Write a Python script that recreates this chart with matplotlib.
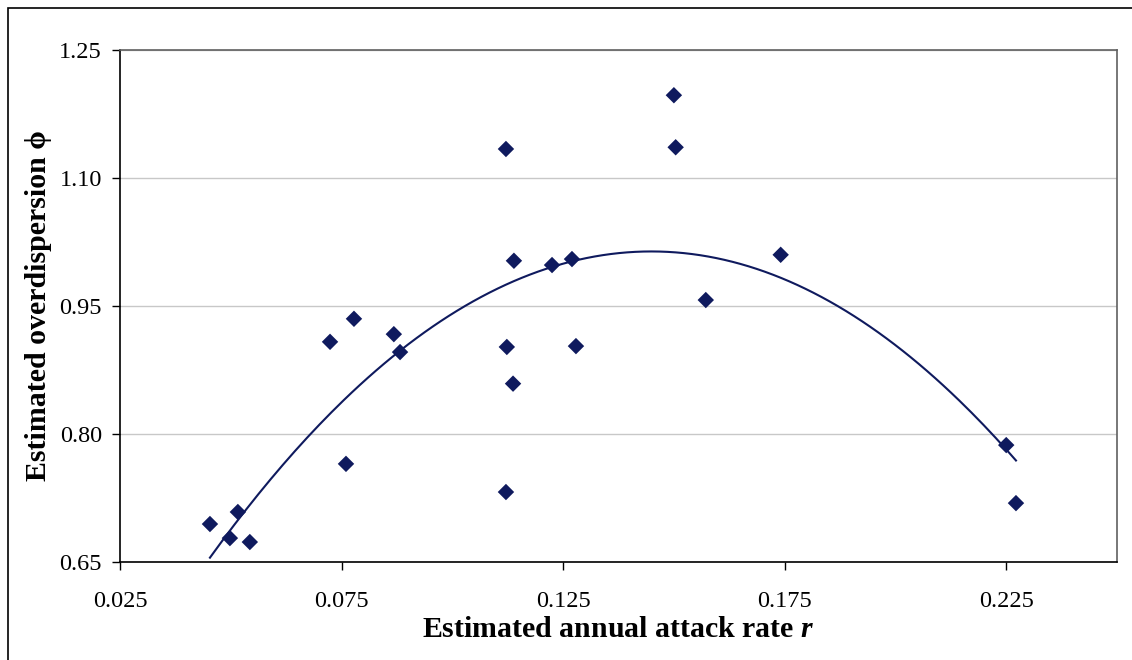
import numpy as np
import matplotlib
matplotlib.use("Agg")
import matplotlib.pyplot as plt
from matplotlib.patches import Rectangle

# attack rate r and overdispersion phi
attack_rate = [0.0453, 0.0498, 0.0516, 0.0543, 0.0724, 0.0760, 0.0778, 0.0868,
               0.0882, 0.1121, 0.1123, 0.1121, 0.1139, 0.1137, 0.1225, 0.1270,
               0.1279, 0.1500, 0.1504, 0.1572, 0.1741, 0.2250, 0.2272]
overdispersion = [0.6945, 0.678, 0.7086, 0.6734, 0.908, 0.765, 0.935, 0.917,
                  0.896, 1.134, 0.902, 0.732, 1.003, 0.859, 0.998, 1.005,
                  0.903, 1.197, 1.136, 0.957, 1.010, 0.787, 0.719]
x_ticks = [0.025, 0.075, 0.125, 0.175, 0.225]
y_ticks = [0.65, 0.80, 0.95, 1.10, 1.25]

navy = "#0f1a5e"
serif = ["Liberation Serif", "DejaVu Serif"]
plt.rcParams["font.family"] = serif
plt.rcParams["mathtext.fontset"] = "custom"
plt.rcParams["mathtext.it"] = "Liberation Serif:italic:bold"
plt.rcParams["mathtext.rm"] = "Liberation Serif:bold"

fig = plt.figure(figsize=(11.32, 6.6), dpi=100)
ax = fig.add_axes([120 / 1132, 98 / 660, 997 / 1132, 512 / 660])

# outer chart frame
fig.patches.append(Rectangle((8 / 1132, -0.1), 1.2, (660 - 8) / 660 + 0.1,
                             transform=fig.transFigure, fill=False,
                             edgecolor="black", linewidth=1.2))

x = np.array(attack_rate)
y = np.array(overdispersion)

# quadratic trendline over the data range
coef = np.polyfit(x, y, 2)
xs = np.linspace(x.min(), x.max(), 200)
ax.plot(xs, np.polyval(coef, xs), color=navy, linewidth=1.5, zorder=2)

ax.scatter(x, y, marker="D", s=70, color=navy, edgecolors="none", zorder=3)

ax.set_xlim(0.025, 0.25)
ax.set_ylim(0.65, 1.25)
ax.set_xticks(x_ticks)
ax.set_xticklabels([f"{t:.3f}" for t in x_ticks])
ax.set_yticks(y_ticks)
ax.set_yticklabels([f"{t:.2f}" for t in y_ticks])
ax.tick_params(axis="both", direction="out", length=6, width=1, labelsize=17.5,
               colors="black")
ax.tick_params(axis="x", pad=15)
ax.tick_params(axis="y", pad=7)

ax.yaxis.grid(True, color="#c8c8c8", linewidth=1)
ax.set_axisbelow(True)
for side in ["left", "bottom"]:
    ax.spines[side].set_color("black")
    ax.spines[side].set_linewidth(1.2)
for side in ["top", "right"]:
    ax.spines[side].set_color("#606060")
    ax.spines[side].set_linewidth(1.2)

ax.set_xlabel(r"Estimated annual attack rate $\mathit{r}$", fontsize=21.5,
              fontweight="bold", labelpad=3)
ax.set_ylabel("Estimated overdispersion \u03d5", fontsize=21.5,
              fontweight="bold", labelpad=5)

fig.savefig("out.png", dpi=100)
